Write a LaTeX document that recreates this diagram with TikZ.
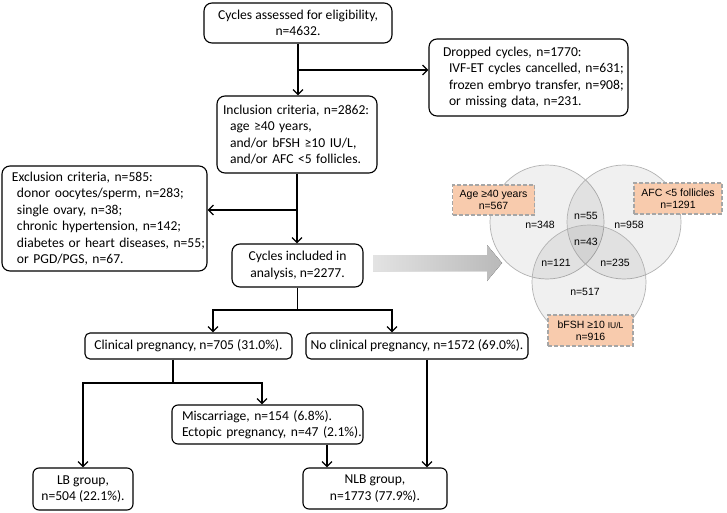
\documentclass[tikz,border=0pt]{standalone}
\usepackage{fontspec}
\setmainfont{Carlito}
\newfontfamily\arialf{Liberation Sans}
\usetikzlibrary{arrows.meta,calc}
\definecolor{peach}{HTML}{F8CBAD}
\definecolor{dashgray}{HTML}{A6A6A6}
\begin{document}
\begin{tikzpicture}[x=1pt,y=-1pt,
  box/.style={draw, line width=1.1pt, rounded corners=8pt, inner sep=2pt, font=\fontsize{13.6}{16.5}\selectfont},
  cbox/.style={box, align=center},
  sbox/.style={box, align=center, rounded corners=5pt},
  lbox/.style={box, align=left},
  arr/.style={line width=1.4pt, -{Straight Barb[length=5pt,width=10pt,line width=1.3pt]}},
  ln/.style={line width=1.4pt},
  venn/.style={draw=gray!60, line width=0.7pt, fill=black, fill opacity=0.06},
  vlab/.style={font=\arialf\fontsize{10.5}{12}\selectfont, align=center, inner sep=0pt},
  tag/.style={vlab, draw=dashgray, dash pattern=on 4pt off 2pt, line width=1.5pt, fill=peach}
]
\useasboundingbox[fill=white] (0,0) rectangle (727,513);

% ---------- Venn diagram ----------
\fill[left color=gray!22, right color=gray!55]
  (373,255) -- (487,255) -- (487,245) -- (502,263) -- (487,281) -- (487,271) -- (373,271) -- cycle;
\path[venn] (547,222) circle (57);
\path[venn] (624,222) circle (57);
\path[venn] (589,282) circle (57);
\node[vlab] (v348) at (540,225) {n=348};
\node[vlab] (v55)  at (586,216) {n=55};
\node[vlab] (v958) at (629,225) {n=958};
\node[vlab] (v43)  at (586,242) {n=43};
\node[vlab] (v121) at (556,263) {n=121};
\node[vlab] (v235) at (615,263) {n=235};
\node[vlab] (v517) at (585,292) {n=517};
\node[tag, minimum width=82pt, minimum height=30pt] (tage) at (493.5,200) {Age ≥40 years\\n=567};
\node[tag, minimum width=88pt, minimum height=31pt] (tafc) at (678,198.5) {AFC <5 follicles\\n=1291};
\node[tag, minimum width=85pt, minimum height=31pt] (tfsh) at (590.5,330.5) {bFSH ≥10 {\fontsize{8.5}{12}\selectfont IU/L}\\n=916};

% ---------- Flowchart boxes ----------
\node[cbox, minimum width=188pt, minimum height=40pt] (assess) at (298,23)
  {Cycles assessed for eligibility,\\n=4632.};
\node[lbox, text width=195pt, minimum height=77pt] (dropped) at (528.5,77.5)
  {\mbox{\hspace*{12pt}Dropped cycles, n=1770:}\\
   \mbox{\hspace*{18pt}IVF-ET cycles cancelled, n=631;}\\
   \mbox{\hspace*{18pt}frozen embryo transfer, n=908;}\\
   \mbox{\hspace*{18pt}or missing data, n=231.}};
\node[lbox, text width=156pt, minimum height=77pt] (incl) at (297,134.5)
  {\mbox{\hspace*{4pt}Inclusion criteria, n=2862:}\\
   \mbox{\hspace*{11pt}age ≥40 years,}\\
   \mbox{\hspace*{11pt}and/or bFSH ≥10 IU/L,}\\
   \mbox{\hspace*{11pt}and/or AFC <5 follicles.}};
\node[lbox, text width=201pt, minimum height=105pt] (excl) at (104.5,218.5)
  {\mbox{\hspace*{8pt}Exclusion criteria, n=585:}\\
   \mbox{\hspace*{13pt}donor oocytes/sperm,\ n=283;}\\
   \mbox{\hspace*{13pt}single ovary, n=38;}\\
   \mbox{\hspace*{13pt}chronic hypertension, n=142;}\\
   \mbox{\hspace*{13pt}diabetes or heart diseases, n=55;}\\
   \mbox{\hspace*{13pt}or PGD/PGS,\ n=67.}};
\node[cbox, minimum width=131pt, minimum height=43pt] (included) at (297.5,265.5)
  {Cycles included in\\analysis, n=2277.};
\node[sbox, minimum width=207pt, minimum height=26pt] (clin) at (188.5,346)
  {Clinical pregnancy, n=705 (31.0\%).};
\node[sbox, minimum width=222pt, minimum height=26pt] (noclin) at (417,346)
  {No clinical pregnancy, n=1572 (69.0\%).};
\node[lbox, text width=187pt, minimum height=39pt, rounded corners=6pt] (misc) at (267.5,424.5)
  {\mbox{\hspace*{8pt}Miscarriage, n=154 (6.8\%).}\\
   \mbox{\hspace*{8pt}Ectopic pregnancy, n=47 (2.1\%).}};
\node[cbox, minimum width=100pt, minimum height=42pt, rounded corners=6pt] (lb) at (83,489)
  {LB group,\\n=504 (22.1\%).};
\node[cbox, minimum width=144pt, minimum height=41pt, rounded corners=6pt] (nlb) at (375,488.5)
  {NLB group,\\n=1773 (77.9\%).};

% ---------- Connectors ----------
\draw[arr] (assess.south) -- (assess.south |- incl.north);
\coordinate (b1) at (298,70);
\draw[arr] (b1) -- (b1 -| dropped.west);
\draw[arr] (incl.south) -- (incl.south |- included.north);
\coordinate (b2) at (297,210);
\draw[arr] (b2) -- (b2 -| excl.east);

\coordinate (s1) at (297.5,310);
\coordinate (sl) at (213,310);
\coordinate (sr) at (392,310);
\draw[ln] (included.south) -- (s1);
\draw[arr] (s1) -- (sl) -- (sl |- clin.north);
\draw[arr] (s1) -- (sr) -- (sr |- noclin.north);

\coordinate (t1) at (173,383);
\coordinate (tl) at (83,383);
\coordinate (tr) at (262,383);
\draw[ln] (t1 |- clin.south) -- (t1);
\draw[arr] (t1) -- (tl) -- (tl |- lb.north);
\draw[arr] (t1) -- (tr) -- (tr |- misc.north);

\coordinate (m1) at (327,450);
\draw[arr] (m1 |- misc.south) -- (m1 |- nlb.north);
\coordinate (m2) at (427,400);
\draw[arr] (m2 |- noclin.south) -- (m2 |- nlb.north);
\end{tikzpicture}
\end{document}
